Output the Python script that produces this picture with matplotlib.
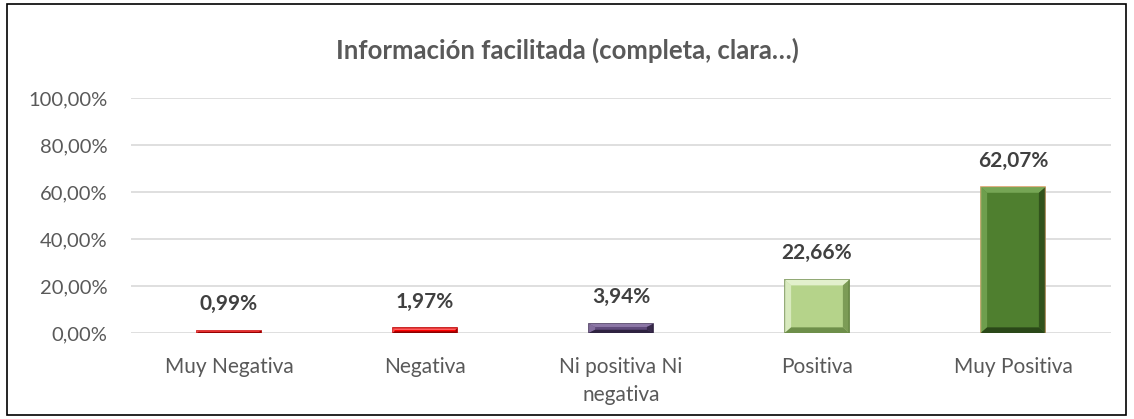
import numpy as np
import matplotlib.pyplot as plt
from matplotlib.patches import Polygon, Rectangle

# datos
categorias = ["Muy Negativa", "Negativa", "Ni positiva Ni\nnegativa", "Positiva", "Muy Positiva"]
porcentajes = [0.99, 1.97, 3.94, 22.66, 62.07]
etiquetas = ["0,99%", "1,97%", "3,94%", "22,66%", "62,07%"]
ticks_y = [0, 20, 40, 60, 80, 100]
ticks_txt = ["0,00%", "20,00%", "40,00%", "60,00%", "80,00%", "100,00%"]
titulo = "Información facilitada (completa, clara…)"

colores = ["#FF0000", "#FF0000", "#604A7B", "#B5D38A", "#4F7F2F"]
claros = ["#FF6060", "#FF6060", "#8C77A6", "#E2F0CC", "#76A655"]
oscuros = ["#8B0000", "#8B0000", "#2E2240", "#6E8F4A", "#2A4818"]
bordes = ["#C00000", "#C00000", "#3F3151", "#5E7E3A", "#D9A16B"]

plt.rcParams['font.family'] = ['Lato', 'DejaVu Sans']
gris = "#595959"

fig = plt.figure(figsize=(11.34, 4.19), dpi=100)
ax = fig.add_axes([131 / 1134, 86 / 419, 980 / 1134, 235 / 419])

x = np.arange(len(categorias))
ancho = 0.33
barras = ax.bar(x, porcentajes, width=ancho, color=colores, edgecolor=bordes, linewidth=1.2, zorder=3)

# bisel aproximado
bx = ancho * 0.1
by_max = 2.4
for b, cl, osc in zip(barras, claros, oscuros):
    x0, w, h = b.get_x(), b.get_width(), b.get_height()
    x1 = x0 + w
    by = min(by_max, h * 0.35)
    bxx = bx if h > 3 else bx * 0.3
    arriba = Polygon([(x0, h), (x1, h), (x1 - bxx, h - by), (x0 + bxx, h - by)], closed=True,
                     facecolor=cl, edgecolor='none', zorder=4)
    izq = Polygon([(x0, 0), (x0, h), (x0 + bxx, h - by), (x0 + bxx, by)], closed=True,
                  facecolor=cl, edgecolor='none', alpha=0.8, zorder=4)
    der = Polygon([(x1, 0), (x1, h), (x1 - bxx, h - by), (x1 - bxx, by)], closed=True,
                  facecolor=osc, edgecolor='none', alpha=0.8, zorder=4)
    abajo = Polygon([(x0, 0), (x1, 0), (x1 - bxx, by), (x0 + bxx, by)], closed=True,
                    facecolor=osc, edgecolor='none', zorder=4)
    for p in (arriba, izq, der, abajo):
        ax.add_patch(p)

for xi, v, t in zip(x, porcentajes, etiquetas):
    ax.text(xi, v + 7, t, ha='center', va='bottom', fontsize=15, fontweight='bold', color="#404040")

ax.set_xlim(-0.5, len(categorias) - 0.5)
ax.set_ylim(0, 100)
ax.set_yticks(ticks_y)
ax.set_yticklabels(ticks_txt, color=gris, fontsize=14.5)
ax.set_xticks(x)
ax.set_xticklabels(categorias, color=gris, fontsize=15, linespacing=1.55)
ax.tick_params(length=0)
ax.tick_params(axis='y', pad=17)
ax.tick_params(axis='x', pad=17)
ax.grid(axis='y', color="#D9D9D9", linewidth=1.2, zorder=0)
for s in ax.spines.values():
    s.set_visible(False)

fig.text(0.5, 1 - 50 / 419, titulo, ha='center', va='center',
         fontsize=18.5, fontweight='bold', color=gris)

# marco exterior
fig.patches.append(Rectangle((7 / 1134, 4 / 419), 1119 / 1134, 411 / 419, transform=fig.transFigure,
                             fill=False, edgecolor='black', linewidth=1.2))

fig.savefig("out.png", dpi=100)
